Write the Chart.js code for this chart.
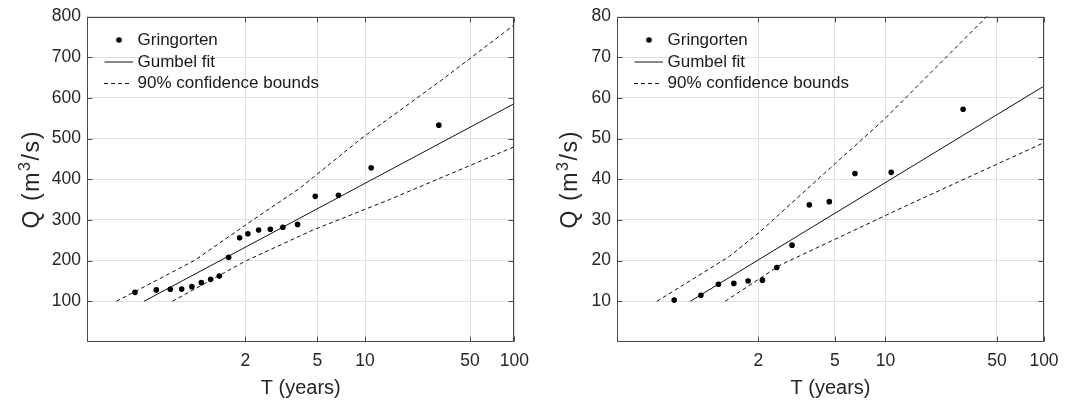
<!DOCTYPE html>
<html><head><meta charset="utf-8">
<script src="https://cdn.jsdelivr.net/npm/chart.js@4.4.1/dist/chart.umd.min.js"></script>
<style>
html,body{margin:0;padding:0;background:#fff;}
#wrap{display:flex;width:1076px;height:402px;}
canvas{display:block;}
</style></head><body>
<div id="wrap"><canvas id="c1" width="538" height="402"></canvas><canvas id="c2" width="538" height="402"></canvas></div>
<script>
// ---- tick labels / categories ----
const xTickT = [2, 5, 10, 50, 100];
const xTickLabels = ['2', '5', '10', '50', '100'];
const yTicksLeft = [100, 200, 300, 400, 500, 600, 700, 800];
const yTicksRight = [10, 20, 30, 40, 50, 60, 70, 80];
const legendLabels = ['Gringorten', 'Gumbel fit', '90% confidence bounds'];
const xTitle = 'T (years)';
const yTitleParts = ['Q (m', '3', '/s)'];   // Q (m^3/s)

// ---- left panel: return period T (years) and discharge Q (m3/s) ----
const leftPointsT = [1.020, 1.064, 1.117, 1.179, 1.251, 1.334, 1.434, 1.544, 1.684, 1.882, 2.057, 2.326, 2.677, 3.138, 3.810, 4.854, 6.76, 10.96, 30.8];
const leftPointsQ = [122, 128, 129.5, 130, 136, 146, 154, 162, 208, 256, 266, 275, 277, 282, 289, 358, 360.5, 428, 533];
const leftFitT = [1.034, 100];
const leftFitQ = [100, 586];
const leftUpperT = [1.00517, 1.27, 2.177, 3.913, 9.44, 31.97, 100];
const leftUpperQ = [100, 200, 300, 377.6, 500, 643, 780];
const leftLowerT = [1.127, 2.022, 4.69, 14.45, 100];
const leftLowerQ = [100, 200, 275, 350, 480];

// ---- right panel ----
const rightPointsT = [1.098, 1.245, 1.399, 1.584, 1.805, 2.085, 2.438, 2.910, 3.597, 4.647, 6.55, 10.84, 30.5];
const rightPointsQ = [10.3, 11.5, 14.2, 14.4, 15.0, 15.2, 18.3, 23.8, 33.7, 34.5, 41.4, 41.7, 57.2];
const rightFitT = [1.175, 100];
const rightFitQ = [10, 62.9];
const rightUpperT = [1.0462, 1.522, 2.035, 4.12, 9.69, 43.9];
const rightUpperQ = [10, 21, 27.1, 40.5, 54.5, 80.3];
const rightLowerT = [1.474, 2.531, 14.13, 100];
const rightLowerQ = [10, 18.9, 33.9, 49];

// Gumbel reduced variate of return period T
const gumbel = T => -Math.log(-Math.log(1 - 1 / T));
const pts = (T, Q) => T.map((t, i) => ({x: gumbel(t), y: Q[i]}));

const FONT = '"Liberation Sans", Arial, Helvetica, sans-serif';
const TXT = '#262626';

const matlabPlugin = {
  id: 'matlabBox',
  afterDatasetsDraw(chart) {
    const ctx = chart.ctx, ca = chart.chartArea;
    const xs = chart.scales.x, ys = chart.scales.y;
    ctx.save();
    ctx.setLineDash([]);
    ctx.strokeStyle = '#4a4a4a';
    ctx.lineWidth = 1;
    const L = Math.round(ca.left) + 0.5, R = Math.round(ca.right) - 0.5;
    const Tp = Math.round(ca.top) + 0.5, B = Math.round(ca.bottom) - 0.5;
    ctx.beginPath();
    ys.ticks.forEach(t => {
      const y = Math.round(ys.getPixelForValue(t.value)) + 0.5;
      ctx.moveTo(L, y); ctx.lineTo(L + 5, y);
      ctx.moveTo(R, y); ctx.lineTo(R - 5, y);
    });
    xs.ticks.forEach(t => {
      const x = Math.round(xs.getPixelForValue(t.value)) + 0.5;
      ctx.moveTo(x, B); ctx.lineTo(x, B - 5);
      ctx.moveTo(x, Tp); ctx.lineTo(x, Tp + 5);
    });
    ctx.stroke();
    ctx.strokeRect(L, Tp, R - L, B - Tp);

    // legend (inside axes, top-left, no box)
    const ds = chart.data.datasets;
    const x0 = ca.left, y0 = ca.top;
    const rows = [23.5, 45.5, 67];
    ctx.fillStyle = ds[0].backgroundColor;
    ctx.beginPath();
    ctx.arc(x0 + 32, y0 + rows[0], ds[0].pointRadius, 0, Math.PI * 2);
    ctx.fill();
    ctx.strokeStyle = ds[1].borderColor;
    ctx.lineWidth = ds[1].borderWidth;
    ctx.beginPath(); ctx.moveTo(x0 + 17.5, y0 + rows[1]); ctx.lineTo(x0 + 46, y0 + rows[1]); ctx.stroke();
    ctx.setLineDash(ds[2].borderDash);
    ctx.strokeStyle = ds[2].borderColor;
    ctx.beginPath(); ctx.moveTo(x0 + 17, y0 + rows[2]); ctx.lineTo(x0 + 44, y0 + rows[2]); ctx.stroke();
    ctx.setLineDash([]);
    ctx.fillStyle = '#1a1a1a';
    ctx.font = '17px ' + FONT;
    ctx.textBaseline = 'middle';
    ctx.textAlign = 'left';
    legendLabels.forEach((lab, i) => ctx.fillText(lab, x0 + 50.5, y0 + rows[i]));

    // y-axis title with a real superscript: Q (m^3/s)
    const big = '23px ' + FONT, small = '16px ' + FONT;
    const sp = 1.6;
    const spaced = (s, f) => { ctx.font = f; return ctx.measureText(s).width + sp * s.length; };
    const w0 = spaced(yTitleParts[0], big), w1 = spaced(yTitleParts[1], small), w2 = spaced(yTitleParts[2], big);
    const total = w0 + w1 + w2;
    const cx = 31, cy = (ca.top + ca.bottom) / 2;
    ctx.translate(cx, cy);
    ctx.rotate(-Math.PI / 2);
    ctx.fillStyle = TXT;
    ctx.textBaseline = 'alphabetic';
    ctx.textAlign = 'left';
    const base = 8;
    const drawSpaced = (s, f, x, y) => {
      ctx.font = f;
      for (const ch of s) { ctx.fillText(ch, x, y); x += ctx.measureText(ch).width + sp; }
      return x;
    };
    let x = -total / 2;
    x = drawSpaced(yTitleParts[0], big, x, base);
    x = drawSpaced(yTitleParts[1], small, x, base - 9);
    drawSpaced(yTitleParts[2], big, x, base);
    ctx.restore();
  }
};

function makeChart(id, cfg) {
  const lineDs = (data, dash) => ({
    type: 'scatter', data, showLine: true, pointRadius: 0, pointHoverRadius: 0,
    borderColor: '#111', borderWidth: 1, borderDash: dash, tension: 0, fill: false
  });
  return new Chart(document.getElementById(id), {
    type: 'scatter',
    data: {
      datasets: [
        {data: pts(cfg.pT, cfg.pQ), pointRadius: 2.8, backgroundColor: '#000', borderWidth: 0, pointStyle: 'circle'},
        lineDs(pts(cfg.fT, cfg.fQ), []),
        lineDs(pts(cfg.uT, cfg.uQ), [4, 3]),
        lineDs(pts(cfg.lT, cfg.lQ), [4, 3])
      ]
    },
    options: {
      responsive: false, animation: false, events: [],
      layout: {padding: {left: 0, right: cfg.padRight, top: 16, bottom: 0}},
      plugins: {legend: {display: false}, tooltip: {enabled: false}},
      scales: {
        x: {
          type: 'linear', min: cfg.xmin, max: gumbel(100),
          afterBuildTicks: s => { s.ticks = xTickT.map(t => ({value: gumbel(t)})); },
          afterFit: s => { s.height = 60; },
          ticks: {autoSkip: false, maxRotation: 0, padding: 9, color: TXT,
            font: {size: 17.5, family: FONT}, callback: (v, i) => xTickLabels[i]},
          grid: {color: '#e0e0e0', drawTicks: false, lineWidth: 1},
          border: {display: false},
          title: {display: true, text: xTitle, color: TXT, font: {size: 20, family: FONT}, padding: {top: 0, bottom: 2}}
        },
        y: {
          type: 'linear', min: 0, max: cfg.ymax,
          afterBuildTicks: s => { s.ticks = cfg.yTicks.map(v => ({value: v})); },
          afterFit: s => { s.width = cfg.yWidth; },
          ticks: {padding: 6, color: TXT, font: {size: 17.5, family: FONT}},
          grid: {color: '#e0e0e0', drawTicks: false, lineWidth: 1},
          border: {display: false}
        }
      }
    },
    plugins: [matlabPlugin]
  });
}

makeChart('c1', {pT: leftPointsT, pQ: leftPointsQ, fT: leftFitT, fQ: leftFitQ,
  uT: leftUpperT, uQ: leftUpperQ, lT: leftLowerT, lQ: leftLowerQ,
  xmin: -2.124, ymax: 800, yTicks: yTicksLeft, yWidth: 87, padRight: 23});
makeChart('c2', {pT: rightPointsT, pQ: rightPointsQ, fT: rightFitT, fQ: rightFitQ,
  uT: rightUpperT, uQ: rightUpperQ, lT: rightLowerT, lQ: rightLowerQ,
  xmin: -1.730, ymax: 80, yTicks: yTicksRight, yWidth: 79, padRight: 32});
</script>
</body></html>
